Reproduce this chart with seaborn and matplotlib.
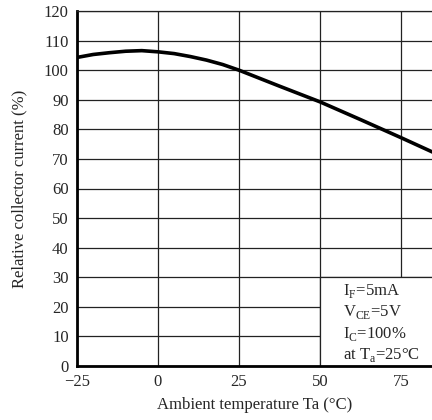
import matplotlib
matplotlib.use("Agg")
import pandas as pd
import seaborn as sns
import matplotlib.pyplot as plt
from matplotlib.patches import Rectangle

# values
temps = [-25, -20, -15, -10, -5, 0, 5, 10, 15, 20, 25, 37.5, 50, 62.5, 75, 85]
rel_current = [104.3, 105.3, 105.9, 106.4, 106.6, 106.2, 105.6, 104.6, 103.4,
               101.9, 100, 94.6, 89.3, 83.3, 77.2, 72.2]
xticks = [-25, 0, 25, 50, 75]
xticklabels = ["\u221225", "0", "25", "50", "75"]
yticks = list(range(0, 121, 10))
cond_lines = [r"I$_\mathregular{F}$=5mA",
              r"V$_\mathregular{CE}$=5V",
              r"I$_\mathregular{C}$=100%",
              r"at T$_\mathregular{a}$=25°C"]

sns.set_style("white")
plt.rcParams["font.family"] = ["Liberation Serif", "DejaVu Serif"]
plt.rcParams["mathtext.fontset"] = "custom"
plt.rcParams["mathtext.rm"] = "Liberation Serif"

df = pd.DataFrame({"temp": temps, "ic": rel_current})

fig = plt.figure(figsize=(4.32, 4.2), dpi=100)
ax = fig.add_axes([77/432, 54/420, 355/432, 355/420])

ax.set_axisbelow(True)
ax.grid(True, color="#222222", linewidth=0.9)
sns.lineplot(data=df, x="temp", y="ic", color="black", linewidth=2.6, ax=ax, zorder=5)

# conditions box: hides grid in lower right cell
ax.add_patch(Rectangle((50, 0), 40, 30, facecolor="white", edgecolor="#222222",
                       linewidth=0.9, zorder=2))
for i, s in enumerate(cond_lines):
    ax.text(57.0, 25.5 - i * 7.3, s, fontsize=12, va="center", ha="left", zorder=6)

ax.set_xlim(-25, 84.6)
ax.set_ylim(0, 120)
ax.set_xticks(xticks)
ax.set_xticklabels(xticklabels)
ax.set_yticks(yticks)
ax.tick_params(length=0, labelsize=12, pad=6)
ax.set_xlabel("Ambient temperature Ta (°C)", fontsize=12, labelpad=5)
ax.set_ylabel("Relative collector current (%)", fontsize=12, labelpad=12)

ax.spines["right"].set_visible(False)
ax.spines["top"].set_linewidth(0.9)
ax.spines["top"].set_color("#222222")
ax.spines["left"].set_linewidth(2)
ax.spines["bottom"].set_linewidth(2)
ax.spines["left"].set_color("black")
ax.spines["bottom"].set_color("black")

fig.savefig("out.png", dpi=100)
plt.close()
